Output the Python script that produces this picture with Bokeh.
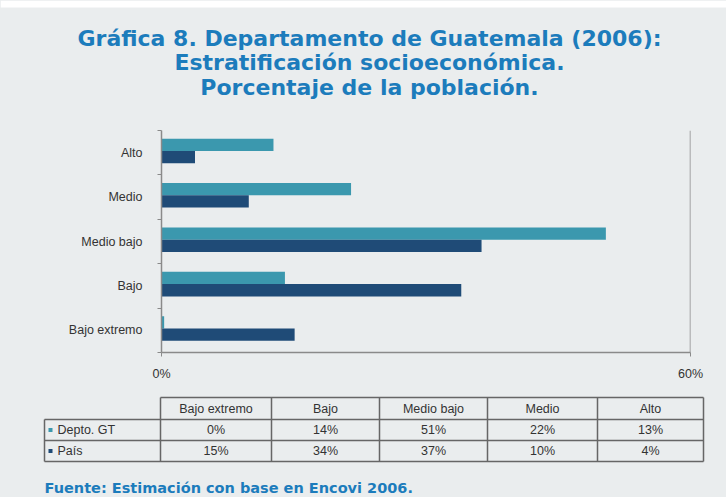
from bokeh.plotting import figure
from bokeh.models import Range1d, FixedTicker, Span
from bokeh.core.properties import value
from bokeh.embed import file_html
from bokeh.resources import INLINE

# ---------------- data ----------------
categories = ["Bajo extremo", "Bajo", "Medio bajo", "Medio", "Alto"]
# bar lengths
depto_gt = [0.3, 14.0, 50.4, 21.5, 12.7]
pais = [15.1, 34.0, 36.3, 9.9, 3.8]
# values as printed in the data table
depto_gt_table = ["0%", "14%", "51%", "22%", "13%"]
pais_table = ["15%", "34%", "37%", "10%", "4%"]
series_names = ["Depto. GT", "País"]
x_ticks = [0, 60]
x_tick_labels = ["0%", "60%"]
title_lines = ["Gráfica 8. Departamento de Guatemala (2006):",
               "Estratificación socioeconómica.",
               "Porcentaje de la población."]
source_text = "Fuente: Estimación con base en Encovi 2006."

# ---------------- style ----------------
BG = "#eaedee"
TEAL = "#3b98ae"
NAVY = "#1f4b77"
TITLE_BLUE = "#1c7cbc"
W = 726

def blank(h):
    f = figure(width=W, height=h, output_backend="svg", toolbar_location=None,
               x_range=Range1d(0, W), y_range=Range1d(h, 0),
               min_border=0, min_border_left=0, min_border_right=0,
               min_border_top=0, min_border_bottom=0)
    f.axis.visible = False
    f.grid.visible = False
    f.outline_line_color = None
    f.background_fill_color = BG
    f.border_fill_color = BG
    return f

# ---------------- title ----------------
H1 = 120
ft = blank(H1)
ft.quad(left=[0], right=[W], top=[0], bottom=[7], fill_color="white", line_color=None)
ft.text(x=[369, 369, 369], y=[38, 62, 87], text=title_lines,
        text_font=value("DejaVu Sans"), text_font_style="bold",
        text_font_size="22px", text_color=TITLE_BLUE,
        text_align="center", text_baseline="middle")

# ---------------- chart ----------------
H2 = 265
n = len(categories)
centers = [i + 0.5 for i in range(n)]
p = figure(width=W, height=H2, output_backend="svg", toolbar_location=None,
           x_range=Range1d(0, 60), y_range=Range1d(0, n),
           min_border_left=161, min_border_right=36,
           min_border_top=10, min_border_bottom=33)
p.background_fill_color = BG
p.border_fill_color = BG
p.outline_line_color = None
p.grid.visible = False

off = 0.138
hh = 0.277
shift = 0.04
p.hbar(y=[c + shift + off for c in centers], right=depto_gt, left=0, height=hh,
       fill_color=TEAL, line_color=None)
p.hbar(y=[c + shift - off for c in centers], right=pais, left=0, height=hh,
       fill_color=NAVY, line_color=None)

p.yaxis.ticker = FixedTicker(ticks=centers, minor_ticks=list(range(n + 1)))
p.yaxis.major_label_overrides = {c: lab for c, lab in zip(centers, categories)}
p.yaxis.major_tick_out = 0
p.yaxis.major_tick_in = 0
p.yaxis.minor_tick_out = 4
p.yaxis.minor_tick_in = 0
p.yaxis.major_label_standoff = 15
p.xaxis.ticker = FixedTicker(ticks=x_ticks)
p.xaxis.major_label_overrides = {t: l for t, l in zip(x_ticks, x_tick_labels)}
p.xaxis.major_tick_out = 4
p.xaxis.major_tick_in = 0
p.xaxis.minor_tick_out = 0
p.xaxis.major_label_standoff = 10
for ax in (p.xaxis, p.yaxis):
    ax.axis_line_color = "#8a8a8a"
    ax.major_tick_line_color = "#8a8a8a"
    ax.minor_tick_line_color = "#8a8a8a"
    ax.axis_line_width = 1.5
    ax.major_label_text_font = "Liberation Sans"
    ax.major_label_text_font_size = "12.5px"
    ax.major_label_text_color = "#333333"
p.add_layout(Span(location=60, dimension="height", line_color="#8a8a8a", line_width=1.5))

# ---------------- table ----------------
H3 = 112
tb = blank(H3)
y0 = 385
col_x = [44, 160, 271, 379, 487, 597, 703]
row_y = [397 - y0, 419 - y0, 440 - y0, 461 - y0]
LC = "#666666"
tb.segment(x0=[col_x[1], col_x[0], col_x[0], col_x[0]],
           x1=[col_x[-1]] * 4, y0=row_y, y1=row_y, line_color=LC, line_width=1.5)
vx0 = list(col_x)
vy0 = [row_y[1]] + [row_y[0]] * (len(col_x) - 1)
tb.segment(x0=vx0, x1=vx0, y0=vy0, y1=[row_y[-1]] * len(col_x), line_color=LC, line_width=1.5)

mids = [(col_x[i] + col_x[i + 1]) / 2 for i in range(1, len(col_x) - 1)]
hy = (row_y[0] + row_y[1]) / 2
r1 = (row_y[1] + row_y[2]) / 2
r2 = (row_y[2] + row_y[3]) / 2
tfont = value("Liberation Sans")
TS = "12.5px"
tb.text(x=mids, y=[hy] * n, text=categories, text_font=tfont, text_font_size=TS,
        text_color="#333333", text_align="center", text_baseline="middle")
tb.text(x=mids, y=[r1] * n, text=depto_gt_table, text_font=tfont,
        text_font_size=TS, text_color="#333333", text_align="center", text_baseline="middle")
tb.text(x=mids, y=[r2] * n, text=pais_table, text_font=tfont,
        text_font_size=TS, text_color="#333333", text_align="center", text_baseline="middle")
tb.scatter(x=[50, 50], y=[r1, r2], marker="square", size=4, fill_color=[TEAL, NAVY], line_color=None)
tb.text(x=[57, 57], y=[r1, r2], text=series_names, text_font=tfont, text_font_size=TS,
        text_color="#333333", text_align="left", text_baseline="middle")

tb.text(x=[44], y=[487 - y0], text=[source_text], text_font=value("DejaVu Sans"),
        text_font_style="bold", text_font_size="14.5px", text_color=TITLE_BLUE,
        text_align="left", text_baseline="middle")

page_template = ("{% block preamble %}<style>html, body { background: " + BG +
                 "; }</style>{% endblock %}")
open("out.html", "w").write(file_html([ft, p, tb], INLINE, template=page_template))
